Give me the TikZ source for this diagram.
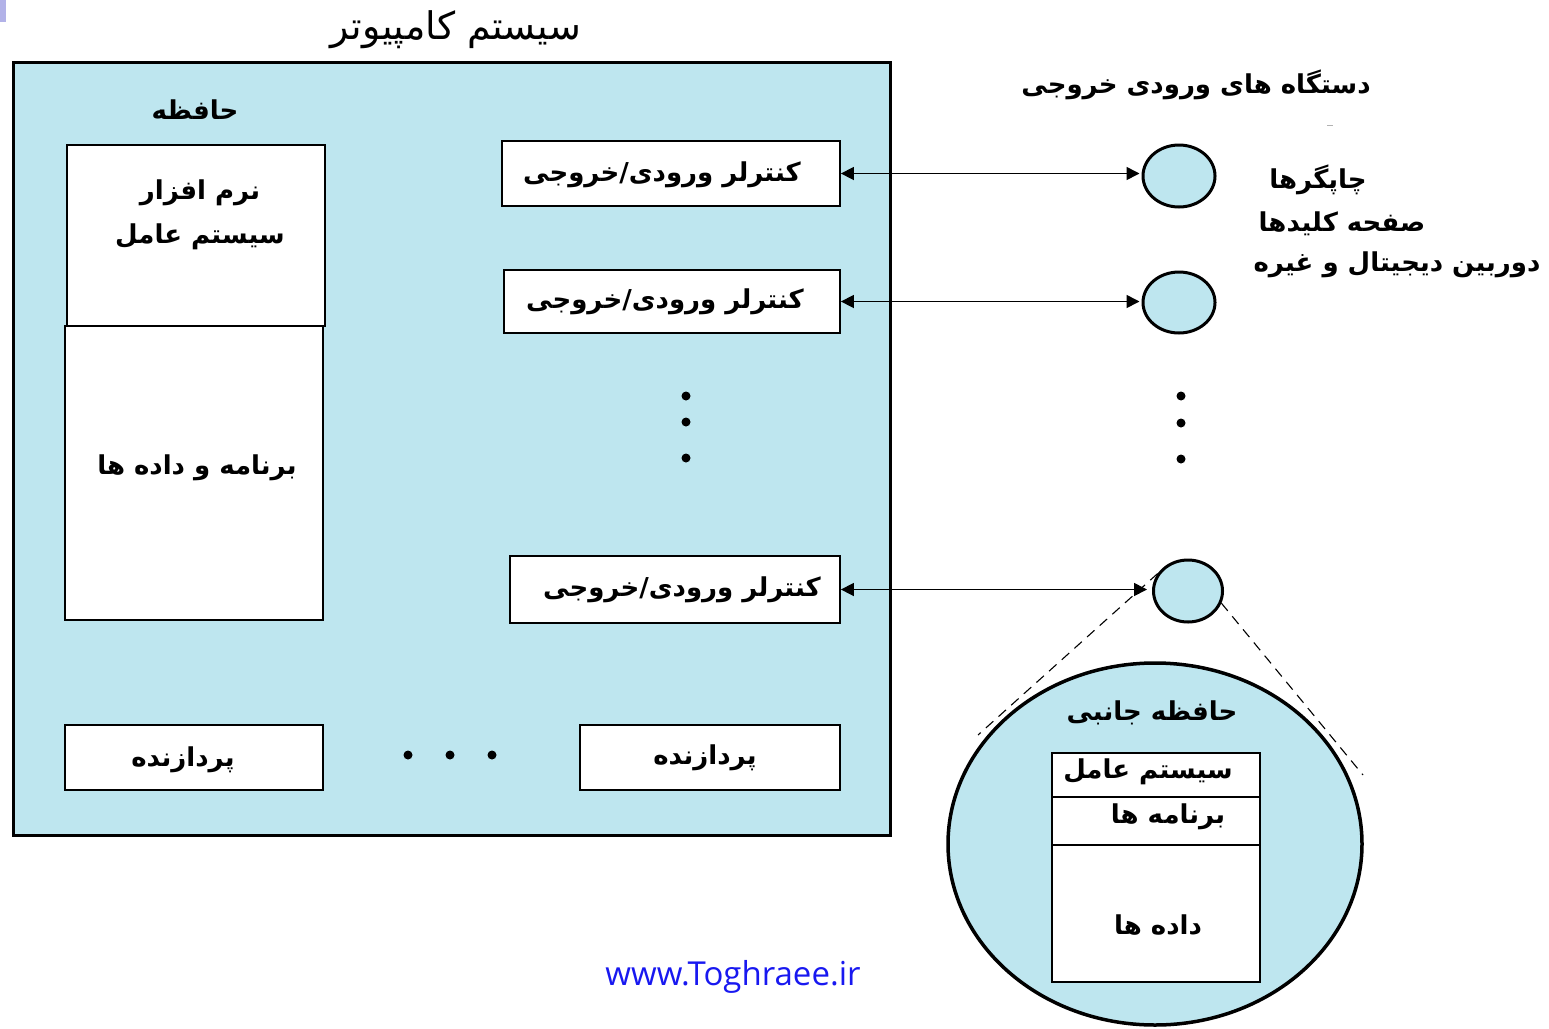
\documentclass[tikz,border=0pt]{standalone}
\usepackage{fontspec}
\usetikzlibrary{arrows.meta,shapes.geometric}
\TeXXeTstate=1
\newfontfamily\fa[Script=Arabic]{DejaVu Sans}
\newfontfamily\urlfont{Open Sans}
\definecolor{lb}{RGB}{190,230,239}
\definecolor{urlblue}{RGB}{24,24,240}
\definecolor{lav}{RGB}{178,178,232}
\begin{document}
\begin{tikzpicture}[x=1pt,y=-1pt,
  txt/.style={font=\fa\bfseries\fontsize{26}{38}\selectfont, inner sep=0pt, align=center},
  whitebox/.style={draw, fill=white, line width=1.8pt, inner sep=0pt},
  dev/.style={ellipse, draw, fill=lb, line width=3pt, inner sep=0pt},
  link/.style={line width=1.6pt, {Triangle[width=13pt,length=13pt]}-{Triangle[width=13pt,length=13pt]}},
  zoomline/.style={line width=1.1pt, dash pattern=on 10pt off 7pt},
  dot/.style={fill=black}]
\useasboundingbox (0,0) rectangle (1549,1028);
\fill[lav] (0,0) rectangle (6,22);
% title
\node[font=\fa\fontsize{38}{44}\selectfont, inner sep=0pt] (title) at (456,30) {\beginR سیستم کامپیوتر\endR};
% system box
\node[draw, fill=lb, line width=3pt, minimum width=877pt, minimum height=773pt, inner sep=0pt] (sys) at (451.5,448.5) {};
\node[txt] (mem) at (195,110) {\beginR حافظه\endR};
% memory boxes
\node[whitebox, minimum width=258pt, minimum height=181pt] (os) at (196,235.5) {};
\node[txt] (ostxt) at (200,215) {\beginR نرم افزار\endR\\[6pt]\beginR سیستم عامل\endR};
\node[whitebox, minimum width=258pt, minimum height=294pt] (pd) at (194,473) {};
\node[txt] (pdtxt) at (197,468) {\beginR برنامه و داده ها\endR};
% processors
\node[whitebox, minimum width=258pt, minimum height=65pt, txt] (p1) at (194,757.5) {};
\node[txt] (p1t) at (183,760) {\beginR پردازنده\endR};
\node[whitebox, minimum width=260pt, minimum height=65pt, txt] (p2) at (710,757.5) {};
\node[txt] (p2t) at (705,758) {\beginR پردازنده\endR};
\fill[dot] (408,755) circle (4.5);
\fill[dot] (450,755) circle (4.5);
\fill[dot] (492,755) circle (4.5);
% controllers
\node[whitebox, minimum width=338pt, minimum height=65pt, txt] (k1) at (671,173.5) {};
\node[txt] (k1t) at (662,175) {\beginR کنترلر ورودی/خروجی\endR};
\node[whitebox, minimum width=336pt, minimum height=63pt, txt] (k2) at (672,301.5) {};
\node[txt] (k2t) at (665,302) {\beginR کنترلر ورودی/خروجی\endR};
\node[whitebox, minimum width=330pt, minimum height=67pt, txt] (k3) at (675,589.5) {};
\node[txt] (k3t) at (682,590) {\beginR کنترلر ورودی/خروجی\endR};
\fill[dot] (686,396) circle (4.5);
\fill[dot] (686,422) circle (4.5);
\fill[dot] (686,458) circle (4.5);
% devices
\node[txt] (devtitle) at (1196,85) {\beginR دستگاه های ورودی خروجی\endR};
\draw[gray!60, line width=1pt] (1327,125) -- (1333,125);
\node[dev, minimum width=72pt, minimum height=62pt] (c1) at (1179,176) {};
\node[dev, minimum width=72pt, minimum height=61pt] (c2) at (1179,302.5) {};
\node[dev, minimum width=69pt, minimum height=62pt] (c3) at (1188,591) {};
\fill[dot] (1181,396) circle (4.5);
\fill[dot] (1181,423) circle (4.5);
\fill[dot] (1181,459) circle (4.5);
\node[txt] (l1) at (1318,180) {\beginR چاپگرها\endR};
\node[txt] (l2) at (1342,224) {\beginR صفحه کلیدها\endR};
\node[txt] (l3) at (1397,265) {\beginR دوربین دیجیتال و غیره\endR};
% links
\draw[link] (k1.east) -- ([xshift=-2pt]k1.east -| c1.west);
\draw[link] (k2.east) -- ([xshift=-2pt]k2.east -| c2.west);
\draw[link] (k3.east) -- ([xshift=-5pt]k3.east -| c3.west);
% secondary storage
\coordinate (dl) at (978,735);
\coordinate (dr) at (1363,775);
\node[dev, line width=3.5pt, minimum width=414pt, minimum height=362pt] (big) at (1155,844) {};
\draw[zoomline] (c3.150) -- (dl);
\draw[zoomline] (c3.-20) -- (dr);
\node[txt] (sec) at (1152,713) {\beginR حافظه جانبی\endR};
\node[whitebox, line width=2.2pt, minimum width=208pt, minimum height=44pt] (s1) at (1156,775) {};
\node[whitebox, line width=2.2pt, minimum width=208pt, minimum height=48pt] (s2) at (1156,821) {};
\node[whitebox, line width=2.2pt, minimum width=208pt, minimum height=137pt] (s3) at (1156,913.5) {};
\node[txt] (s1t) at (1148,772) {\beginR سیستم عامل\endR};
\node[txt] (s2t) at (1168,817) {\beginR برنامه ها\endR};
\node[txt] (s3t) at (1158,925) {\beginR داده ها\endR};
% url
\node[font=\urlfont\fontsize{33}{38}\selectfont, text=urlblue, inner sep=0pt] (url) at (733,977) {www.Toghraee.ir};
\end{tikzpicture}
\end{document}
